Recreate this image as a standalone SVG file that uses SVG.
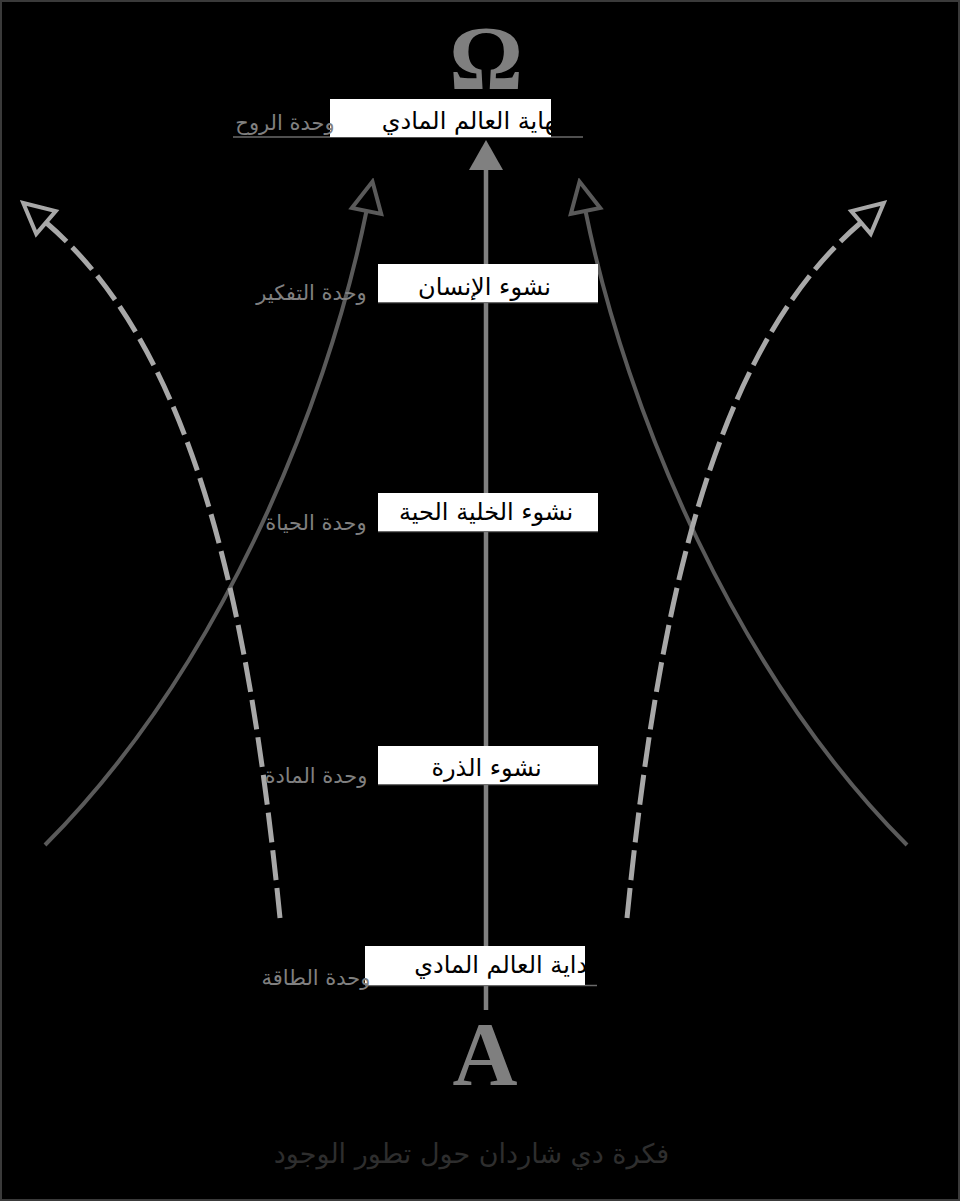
<svg xmlns="http://www.w3.org/2000/svg" width="960" height="1201" viewBox="0 0 960 1201">
<defs>
<style>
.lbl{font-family:"DejaVu Sans","Noto Sans",sans-serif;font-size:21px;fill:#808080;text-anchor:middle}
.btx{font-family:"DejaVu Sans","Noto Sans",sans-serif;font-size:24px;fill:#000;text-anchor:middle}
.box{fill:#fff}
.ul{stroke:#6a6a6a;stroke-width:1.5}
.solid{fill:none;stroke:#5a5a5a;stroke-width:4}
.dash{fill:none;stroke:#a8a8a8;stroke-width:5;stroke-dasharray:30 8}
.big{font-family:"Liberation Serif",serif;font-weight:bold;fill:#7f7f7f;text-anchor:middle}
</style>
<marker id="hs" viewBox="-4 -19 38 38" markerWidth="38" markerHeight="38" refX="0" refY="0" orient="auto" markerUnits="userSpaceOnUse">
<path d="M0,-15 L30,0 L0,15 Z" fill="#000" stroke="#5a5a5a" stroke-width="4" stroke-linejoin="miter"/>
</marker>
<marker id="hd" viewBox="-4 -19 38 38" markerWidth="38" markerHeight="38" refX="0" refY="0" orient="auto" markerUnits="userSpaceOnUse">
<path d="M0,-15 L30,0 L0,15 Z" fill="#000" stroke="#a8a8a8" stroke-width="4" stroke-linejoin="miter"/>
</marker>
</defs>
<rect x="0" y="0" width="960" height="1201" fill="#000"/>
<rect x="1" y="1" width="958" height="1199" fill="none" stroke="#3a3a3a" stroke-width="2"/>

<g id="omega"><text class="big" x="486" y="89" font-size="92">Ω</text></g>
<g id="alpha"><text class="big" x="485" y="1085" font-size="90">A</text></g>

<g id="connectors">
<line x1="486" y1="1010" x2="486" y2="168" stroke="#808080" stroke-width="4.5"/>
<polygon points="486,140 469,170 503,170" fill="#808080"/>
<path class="solid" d="M45,845 C215,675 325,415 366.5,211" marker-end="url(#hs)"/>
<path class="solid" d="M907,845 C737,675 627,415 585.5,211" marker-end="url(#hs)"/>
<path class="dash" d="M280,918 C250,618 198,352.5 46,222.5" marker-end="url(#hd)"/>
<path class="dash" d="M627,918 C657,618 709,352.5 861,222.5" marker-end="url(#hd)"/>
</g>

<g id="n-end">
<line class="ul" x1="233" y1="137" x2="583" y2="137"/>
<rect class="box" x="330" y="99" width="221" height="38"/>
<text class="lbl" x="285" y="130">وحدة الروح</text>
<text class="btx" x="472" y="129" font-size="22">نهاية العالم المادي</text>
</g>
<g id="n-human">
<line class="ul" x1="378" y1="302.5" x2="598" y2="302.5"/>
<rect class="box" x="378" y="264" width="220" height="38"/>
<text class="lbl" x="311.5" y="300">وحدة التفكير</text>
<text class="btx" x="484.5" y="295">نشوء الإنسان</text>
</g>
<g id="n-cell">
<line class="ul" x1="378" y1="531.5" x2="598" y2="531.5"/>
<rect class="box" x="378" y="493" width="220" height="38"/>
<text class="lbl" x="316" y="530">وحدة الحياة</text>
<text class="btx" x="486" y="520">نشوء الخلية الحية</text>
</g>
<g id="n-atom">
<line class="ul" x1="378" y1="784.5" x2="598" y2="784.5"/>
<rect class="box" x="378" y="746" width="220" height="38"/>
<text class="lbl" x="316" y="783">وحدة المادة</text>
<text class="btx" x="486.5" y="776">نشوء الذرة</text>
</g>
<g id="n-begin">
<line class="ul" x1="365" y1="985.5" x2="597" y2="985.5"/>
<rect class="box" x="365" y="946" width="220" height="39"/>
<text class="lbl" x="316" y="985">وحدة الطاقة</text>
<text class="btx" x="505" y="973">بداية العالم المادي</text>
</g>

<g id="caption"><text x="471.5" y="1163" font-family="DejaVu Sans,sans-serif" font-size="27" fill="#2e2e2e" text-anchor="middle">فكرة دي شاردان حول تطور الوجود</text></g>
</svg>
